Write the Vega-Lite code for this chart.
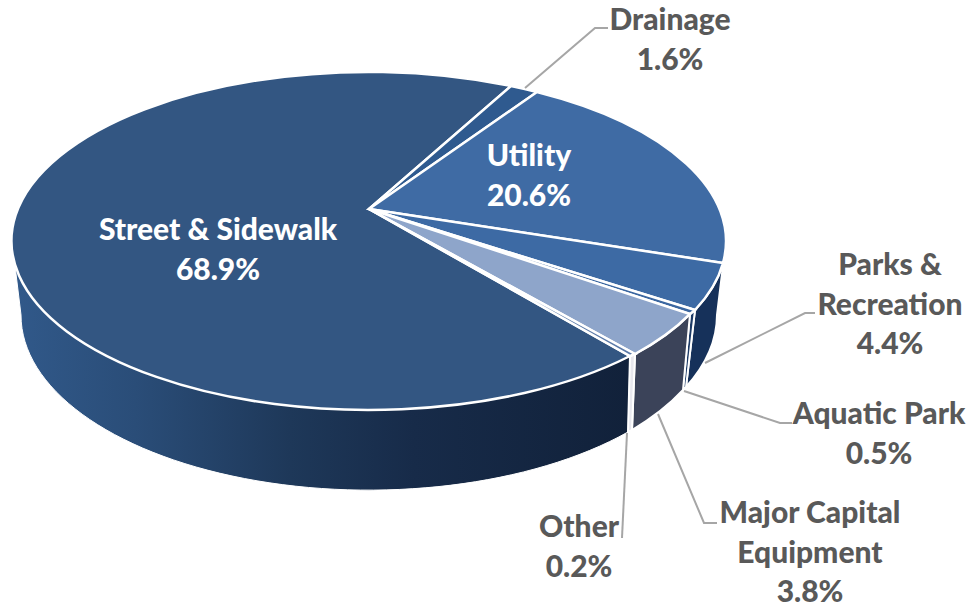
{"$schema":"https://vega.github.io/schema/vega-lite/v6.json","width":738,"height":418,"autosize":"none","padding":{"left":0,"top":0,"right":233,"bottom":189},"background":"white","view":{"stroke":null},"config":{"view":{"stroke":null}},
"data":{"values":[
{"category":"Street & Sidewalk","share":68.9,"label":"Street & Sidewalk\n68.9%"},
{"category":"Drainage","share":1.6,"label":"Drainage\n1.6%"},
{"category":"Utility","share":20.6,"label":"Utility\n20.6%"},
{"category":"Parks & Recreation","share":4.4,"label":"Parks &\nRecreation\n4.4%"},
{"category":"Aquatic Park","share":0.5,"label":"Aquatic Park\n0.5%"},
{"category":"Major Capital Equipment","share":3.8,"label":"Major Capital\nEquipment\n3.8%"},
{"category":"Other","share":0.2,"label":"Other\n0.2%"}
]},
"resolve":{"scale":{"shape":"independent","color":"independent"}},
"layer":[
{"transform":[{"filter":"datum.category === 'Street & Sidewalk'"}],
"mark":{"type":"point","filled":true,"opacity":1,"size":4,"stroke":"white","strokeWidth":1,"color":{"gradient":"linear","x1":0,"y1":0,"x2":1,"y2":0,"stops":[{"offset":0,"color":"#31598a"},{"offset":0.2,"color":"#2a4d78"},{"offset":0.45,"color":"#1e3859"},{"offset":0.65,"color":"#172b49"},{"offset":1,"color":"#11213a"}]}},
"encoding":{"shape":{"field":"category","type":"nominal","legend":null,"scale":{"domain":["Street & Sidewalk"],"range":["M-357,32A357,169 0 0 0 261,147L259,223A348,175 0 0 1 -348,106Z"]}}}},
{"transform":[{"filter":"datum.category === 'Other' || datum.category === 'Major Capital Equipment' || datum.category === 'Aquatic Park' || datum.category === 'Parks & Recreation'"}],
"mark":{"type":"point","filled":true,"opacity":1,"size":4,"stroke":"white","strokeWidth":2},
"encoding":{
"shape":{"field":"category","type":"nominal","legend":null,"scale":{"domain":["Other","Major Capital Equipment","Aquatic Park","Parks & Recreation"],"range":["M261,147A357,169 0 0 0 266,145L263,221A348,175 0 0 1 259,223Z","M266,145A357,169 0 0 0 321,105L314,181A348,175 0 0 1 263,221Z","M321,105A357,169 0 0 0 326,101L317,178A348,175 0 0 1 314,181Z","M326,101A357,169 0 0 0 357,32L348,106A348,175 0 0 1 317,178Z"]}},
"color":{"field":"category","type":"nominal","legend":null,"scale":{"domain":["Other","Major Capital Equipment","Aquatic Park","Parks & Recreation"],"range":["#e8e8ee","#3b4359","#1c3a66","#16315a"]}}}},
{"mark":{"type":"point","filled":true,"opacity":1,"size":4,"stroke":"white","strokeWidth":2.5},
"encoding":{
"shape":{"field":"category","type":"nominal","legend":null,"scale":{"domain":["Street & Sidewalk","Drainage","Utility","Parks & Recreation","Aquatic Park","Major Capital Equipment","Other"],"range":["M0,0L261,147A357,169 0 1 1 142,-123Z","M0,0L142,-123A357,169 0 0 1 168,-117Z","M0,0L168,-117A357,169 0 0 1 354,54Z","M0,0L354,54A357,169 0 0 1 326,101Z","M0,0L326,101A357,169 0 0 1 321,105Z","M0,0L321,105A357,169 0 0 1 266,145Z","M0,0L266,145A357,169 0 0 1 261,147Z"]}},
"color":{"field":"category","type":"nominal","legend":null,"scale":{"domain":["Street & Sidewalk","Drainage","Utility","Parks & Recreation","Aquatic Park","Major Capital Equipment","Other"],"range":["#335682","#2f5a8f","#3f6ba4","#3d6aa4","#3a66a0","#8ea5ca","#5b7aa8"]}}}},
{"transform":[{"filter":"datum.category !== 'Street & Sidewalk' && datum.category !== 'Utility'"}],
"mark":{"type":"point","filled":false,"opacity":1,"size":4,"color":"#a6a6a6","strokeWidth":2},
"encoding":{"shape":{"field":"category","type":"nominal","legend":null,"scale":{"domain":["Drainage","Parks & Recreation","Aquatic Park","Major Capital Equipment","Other"],"range":["M156,-121L226,-181L239,-181","M336,154L436,104L446,104","M315,182L411,214L423,214","M289,205L335,314L348,314","M258,224L253,329"]}}}},
{"mark":{"type":"text","font":"Lato","fontWeight":900,"fontSize":30,"align":"center","baseline":"alphabetic","lineBreak":"\n","lineHeight":39.5},
"encoding":{
"text":{"field":"label","type":"nominal"},
"x":{"field":"share","type":"quantitative","axis":null,"scale":{"zero":false,"nice":false,"clamp":false,"domain":[0.2,0.5,1.6,3.8,4.4,20.6,68.9],"range":[579,879,670,810,890,529,218]}},
"y":{"field":"share","type":"quantitative","axis":null,"scale":{"zero":false,"nice":false,"domain":[0.2,0.5,1.6,3.8,4.4,20.6,68.9],"range":[537,424,30,523,275,166,240]}},
"color":{"field":"category","type":"nominal","legend":null,"scale":{"domain":["Street & Sidewalk","Utility","Drainage","Parks & Recreation","Aquatic Park","Major Capital Equipment","Other"],"range":["#ffffff","#ffffff","#595959","#595959","#595959","#595959","#595959"]}}}}
]}
